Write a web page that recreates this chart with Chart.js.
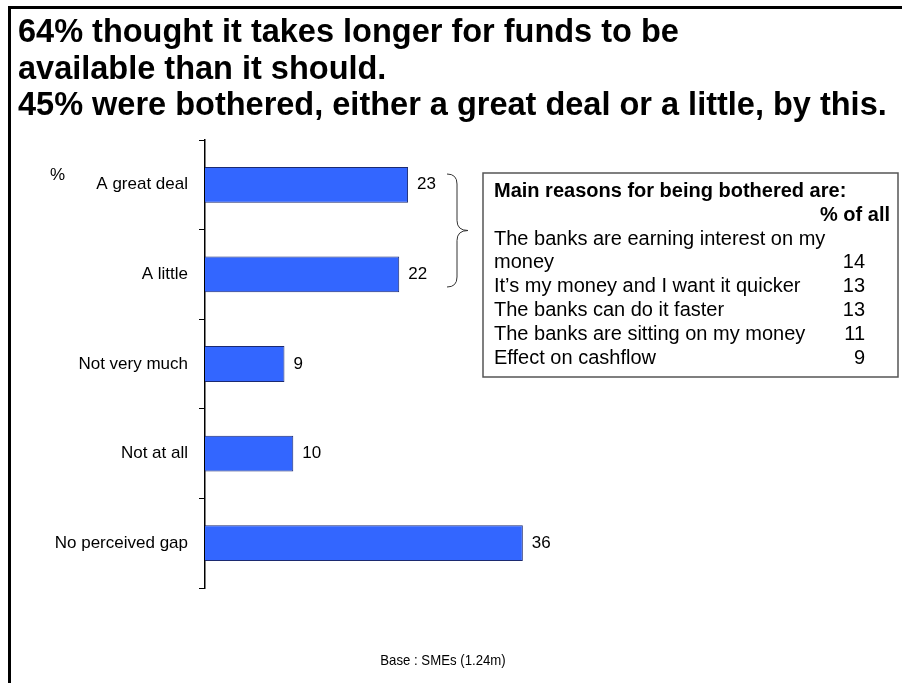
<!DOCTYPE html>
<html>
<head>
<meta charset="utf-8">
<script src="https://cdn.jsdelivr.net/npm/chart.js@4"></script>
<style>
	body { margin: 0; background: #fff; }
</style>
</head>
<body>
<canvas id="canvas" width="902" height="683"></canvas>
<script>

// answers to "how bothered by the delay"
var categories = ['A great deal', 'A little', 'Not very much', 'Not at all', 'No perceived gap'];
var values = [23, 22, 9, 10, 36];

var titleLines = [
	'64% thought it takes longer for funds to be',
	'available than it should.',
	'45% were bothered, either a great deal or a little, by this.'
];

// reasons box
var reasonsHeading = 'Main reasons for being bothered are:';
var reasonsColumn = '% of all';
var reasons = [
	['The banks are earning interest on my', 'money'],
	['It\u2019s my money and I want it quicker'],
	['The banks can do it faster'],
	['The banks are sitting on my money'],
	['Effect on cashflow']
];
var reasonValues = [14, 13, 13, 11, 9];

var footnote = 'Base : SMEs (1.24m)';

var FONT = 'Arial, "Liberation Sans", sans-serif';

var decorations = {
	id: 'decorations',
	beforeDraw: function(chart) {
		var ctx = chart.ctx;
		ctx.save();
		ctx.fillStyle = '#fff';
		ctx.fillRect(0, 0, chart.width, chart.height);
		// frame, top and left only
		ctx.fillStyle = '#000';
		ctx.fillRect(8, 6, chart.width - 8, 3);
		ctx.fillRect(8, 6, 3, chart.height - 6);
		ctx.restore();
	},
	afterDraw: function(chart) {
		var ctx = chart.ctx;
		ctx.save();
		ctx.fillStyle = '#000';
		ctx.textBaseline = 'alphabetic';

		// heading
		ctx.font = 'bold 32.5px ' + FONT;
		ctx.textAlign = 'left';
		titleLines.forEach(function(t, i) {
			ctx.fillText(t, 18, 42 + i * 36.5);
		});

		ctx.font = '17px ' + FONT;
		ctx.fillText('%', 50, 180);

		// brace joining the first two bars
		var x0 = 447, xm = 457, xt = 468, top = 174, bot = 287, mid = (top + bot) / 2, r = 10;
		ctx.strokeStyle = '#333';
		ctx.lineWidth = 1;
		ctx.beginPath();
		ctx.moveTo(x0, top);
		ctx.quadraticCurveTo(xm, top, xm, top + r);
		ctx.lineTo(xm, mid - r);
		ctx.quadraticCurveTo(xm, mid, xt, mid);
		ctx.quadraticCurveTo(xm, mid, xm, mid + r);
		ctx.lineTo(xm, bot - r);
		ctx.quadraticCurveTo(xm, bot, x0, bot);
		ctx.stroke();

		// reasons box
		ctx.strokeStyle = '#555';
		ctx.lineWidth = 1.5;
		ctx.strokeRect(483, 173, 415, 204);
		var lx = 494, nx = 865, y = 197, lh = 23.8;
		ctx.font = 'bold 20px ' + FONT;
		ctx.fillText(reasonsHeading, lx, y);
		y += lh;
		ctx.textAlign = 'right';
		ctx.fillText(reasonsColumn, 890, y);
		ctx.font = '20px ' + FONT;
		reasons.forEach(function(lines, i) {
			lines.forEach(function(line, j) {
				y += lh;
				ctx.textAlign = 'left';
				ctx.fillText(line, lx, y);
				if (j === lines.length - 1) {
					ctx.textAlign = 'right';
					ctx.fillText(String(reasonValues[i]), nx, y);
				}
			});
		});

		// base note, a little condensed
		ctx.font = '15px ' + FONT;
		ctx.textAlign = 'center';
		ctx.translate(443, 665);
		ctx.scale(0.88, 1);
		ctx.fillText(footnote, 0, 0);
		ctx.restore();
	},
	afterDatasetsDraw: function(chart) {
		var ctx = chart.ctx;
		var meta = chart.getDatasetMeta(0);
		ctx.save();
		ctx.fillStyle = '#000';
		ctx.font = '17px ' + FONT;
		ctx.textAlign = 'left';
		ctx.textBaseline = 'middle';
		meta.data.forEach(function(bar, i) {
			ctx.fillText(String(values[i]), bar.x + 9, bar.y);
		});
		ctx.restore();
	}
};

var ctx = document.getElementById('canvas').getContext('2d');
var chart = new Chart(ctx, {
	type: 'bar',
	data: {
		labels: categories,
		datasets: [{
			data: values,
			backgroundColor: '#3366ff',
			borderColor: '#1c2a70',
			borderWidth: 1,
			barPercentage: 0.4,
			categoryPercentage: 1
		}]
	},
	options: {
		indexAxis: 'y',
		responsive: false,
		animation: false,
		devicePixelRatio: 1,
		layout: { padding: { top: 140, bottom: 95, left: 0, right: 79 } },
		plugins: {
			legend: { display: false },
			tooltip: { enabled: false }
		},
		scales: {
			x: { display: false, min: 0, max: 70 },
			y: {
				afterFit: function(scale) { scale.width = 205; },
				grid: { offset: true, drawOnChartArea: false, drawTicks: true, tickLength: 6, color: '#000' },
				border: { display: true, color: '#000', width: 1.5 },
				ticks: { color: '#000', padding: 11, font: { family: FONT, size: 17 } }
			}
		}
	},
	plugins: [decorations]
});
</script>
</body>
</html>
